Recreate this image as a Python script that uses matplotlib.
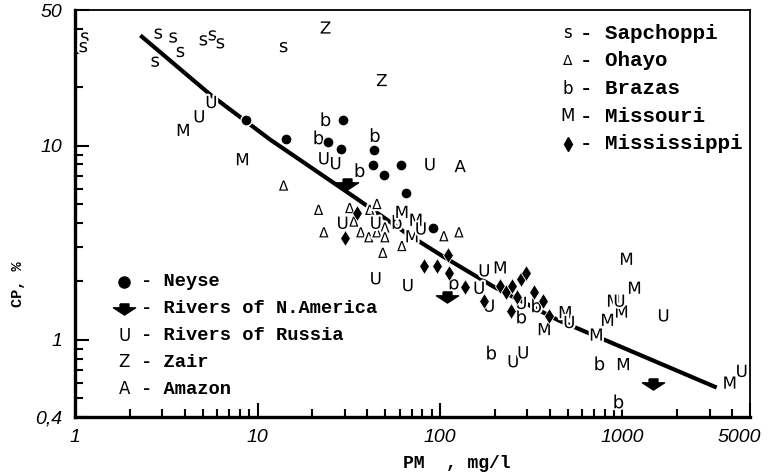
import matplotlib.pyplot as plt
import matplotlib.patheffects as pe
from matplotlib.path import Path
from matplotlib.transforms import ScaledTranslation
from matplotlib.ticker import FixedLocator, NullFormatter

# Sapchoppi (s)
s_pm = [1.13, 1.11, 2.75, 2.86, 3.45, 3.78, 5.05, 5.66, 6.26, 13.9]
s_cp = [36.1, 32.2, 27.1, 37.8, 36.1, 30.4, 34.9, 37.0, 33.7, 32.2]
# Ohayo (triangles)
oh_pm = [13.9, 21.6, 23.1, 32.0, 33.7, 36.8, 40.7, 41.2, 45.1, 49.9, 45.1, 49.9, 48.6, 61.8, 105, 127]
oh_cp = [6.15, 4.61, 3.53, 4.71, 4.01, 3.53, 3.33, 4.61, 4.94, 3.74, 3.53, 3.33, 2.77, 3.00, 3.37, 3.53]
# Brazas (b)
br_pm = [23.6, 21.6, 44.0, 36.3, 58.0, 119, 279, 337, 191, 748, 951]
br_cp = [13.4, 10.8, 11.1, 7.32, 3.96, 1.93, 1.29, 1.47, 0.841, 0.740, 0.471]
# Missouri (M)
mo_pm = [3.92, 8.27, 61.8, 73.8, 70.2, 214, 373, 486, 719, 828, 893, 988, 1052, 1164, 1012, 3873]
mo_cp = [11.9, 8.41, 4.50, 4.10, 3.37, 2.33, 1.12, 1.37, 1.05, 1.25, 1.57, 1.38, 2.58, 1.83, 0.740, 0.594]
# Mississippi (diamonds)
mi_pm = [35.0, 30.1, 111, 81.7, 96.3, 112, 137, 175, 214, 231, 249, 265, 279, 297, 246, 328, 368, 397]
mi_cp = [4.50, 3.33, 2.74, 2.41, 2.41, 2.22, 1.87, 1.59, 1.89, 1.76, 1.89, 1.66, 2.05, 2.22, 1.41, 1.76, 1.59, 1.32]
# Neyse (dots)
ne_pm = [8.70, 29.3, 14.4, 24.2, 28.6, 43.4, 42.9, 49.2, 61.1, 65.0, 91.5]
ne_cp = [13.5, 13.5, 10.8, 10.5, 9.66, 9.55, 7.93, 7.07, 7.93, 5.67, 3.78]
# Rivers of N.America (arrows)
na_pm = [30.8, 109, 1462]
na_cp = [6.37, 1.66, 0.594]
# Rivers of Russia (U)
ru_pm = [5.59, 4.80, 23.1, 26.8, 88.1, 29.3, 44.5, 44.5, 66.7, 78.7, 175, 164, 186, 279, 252, 286, 511, 963, 1680, 4507]
ru_cp = [16.6, 14.0, 8.51, 8.03, 7.93, 3.96, 3.96, 2.05, 1.89, 3.70, 2.25, 1.83, 1.48, 1.53, 0.766, 0.851, 1.22, 1.57, 1.32, 0.683]
# Zair (Z) and Amazon (A)
za_pm = [23.6, 48.0]
za_cp = [40.1, 21.5]
am_pm = [129]
am_cp = [7.75]
# fitted curve
fit_pm = [2.28, 5.52, 11.8, 17.2, 35.4, 66.7, 105, 198, 445, 796, 3282]
fit_cp = [37.0, 18.3, 10.7, 8.41, 5.29, 3.49, 2.67, 1.87, 1.26, 1.00, 0.567]

x_ticks = [1, 10, 100, 1000, 5000]
x_labels = ['1', '10', '100', '1000', '5000']
y_ticks = [0.4, 1, 10, 50]
y_labels = ['0,4', '1', '10', '50']

mono = 'Liberation Mono'
halo = [pe.withStroke(linewidth=3, foreground='white')]

# down arrow marker
arrow = Path([(-0.4, 0.5), (0.4, 0.5), (0.4, 0.15), (1.0, 0.15), (0, -0.5),
              (-1.0, 0.15), (-0.4, 0.15), (-0.4, 0.5)])

fig = plt.figure(figsize=(7.68, 4.74), dpi=100)
ax = fig.add_axes([0.0977, 0.1203, 0.8789, 0.8586])
ax.set_xscale('log')
ax.set_yscale('log')
ax.set_xlim(1, 5000)
ax.set_ylim(0.4, 50)

ax.plot(fit_pm, fit_cp, color='k', lw=3, solid_capstyle='butt', zorder=2)


def letters(xs, ys, ch, size=12):
    for x, y in zip(xs, ys):
        ax.text(x, y, ch, ha='center', va='center', fontsize=size,
                family='DejaVu Sans', path_effects=halo, zorder=4)


letters(s_pm, s_cp, 's', 13)
letters(oh_pm, oh_cp, 'Δ', 10)
letters(br_pm, br_cp, 'b', 13)
letters(mo_pm, mo_cp, 'M')
letters(ru_pm, ru_cp, 'U')
letters(za_pm, za_cp, 'Z')
letters(am_pm, am_cp, 'A')

ax.plot(ne_pm, ne_cp, 'o', color='k', ms=8, mec='white', mew=1, zorder=5)
ax.plot(mi_pm, mi_cp, 'd', color='k', ms=7.8, mec='white', mew=0.6, zorder=5)
ax.plot(na_pm, na_cp, marker=arrow, ls='none', color='k', ms=16, zorder=5)

# upper right key
upper = [('s', 'Sapchoppi'), ('Δ', 'Ohayo'), ('b', 'Brazas'), ('M', 'Missouri'), ('d', 'Mississippi')]
for i, (sym, name) in enumerate(upper):
    yy = 0.943 - i * 0.068
    if sym == 'd':
        ax.plot([0.730], [yy], 'd', color='k', ms=7, transform=ax.transAxes)
    else:
        ax.text(0.730, yy, sym, transform=ax.transAxes, ha='center', va='center',
                fontsize=10 if sym == 'Δ' else 12, family='DejaVu Sans')
    ax.text(0.748, yy, '- ' + name, transform=ax.transAxes, ha='left', va='center',
            fontsize=15, family=mono, fontweight='bold')

# lower left key
lower = [('o', 'Neyse'), ('arrow', 'Rivers of N.America'), ('U', 'Rivers of Russia'),
         ('Z', 'Zair'), ('A', 'Amazon')]
for i, (sym, name) in enumerate(lower):
    yy = 0.332 - i * 0.066
    if sym == 'o':
        ax.plot([0.073], [yy], 'o', color='k', ms=8, transform=ax.transAxes)
    elif sym == 'arrow':
        ax.plot([0.073], [yy], marker=arrow, color='k', ms=16, transform=ax.transAxes)
    else:
        ax.text(0.073, yy, sym, transform=ax.transAxes, ha='center', va='center',
                fontsize=12, family='DejaVu Sans')
    ax.text(0.097, yy, '- ' + name, transform=ax.transAxes, ha='left', va='center',
            fontsize=13.5, family=mono, fontweight='bold')

# axes frame and ticks
for side in ['left', 'bottom']:
    ax.spines[side].set_linewidth(2.4)
for side in ['top', 'right']:
    ax.spines[side].set_linewidth(1.3)

ax.xaxis.set_major_locator(FixedLocator(x_ticks))
ax.set_xticklabels(x_labels)
ax.yaxis.set_major_locator(FixedLocator(y_ticks))
ax.set_yticklabels(y_labels)
ax.xaxis.set_minor_formatter(NullFormatter())
ax.yaxis.set_minor_formatter(NullFormatter())
ax.tick_params(which='both', direction='in', top=False, right=False, width=1.5)
ax.tick_params(which='major', length=10, pad=9)
ax.tick_params(which='minor', length=6)
for lab in ax.get_xticklabels() + ax.get_yticklabels():
    lab.set_fontstyle('italic')
    lab.set_fontsize(14)
    lab.set_family('Liberation Sans')

# keep the last x label inside the figure
last = ax.get_xticklabels()[-1]
last.set_transform(last.get_transform() + ScaledTranslation(-8 / 72, 0, fig.dpi_scale_trans))

fig.text(0.595, 0.023, 'PM  , mg/l', ha='center', va='center', fontsize=13,
         family=mono, fontweight='bold')
fig.text(0.024, 0.40, 'CP, %', ha='center', va='center', rotation=90, fontsize=11,
         family=mono, fontweight='bold')

fig.savefig('out.png', dpi=100)
